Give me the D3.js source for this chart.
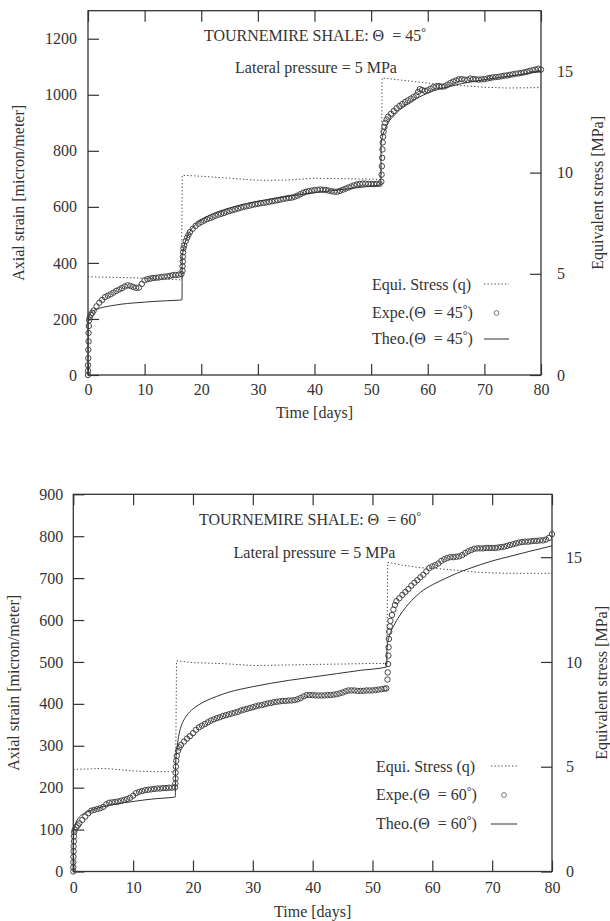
<!DOCTYPE html>
<html>
<head>
<meta charset="utf-8">
<script src="https://cdn.jsdelivr.net/npm/d3@7"></script>
<style>
  html, body { margin: 0; padding: 0; background: #fff; }
  svg { display: block; }
  text { font-family: "Liberation Serif", "Times New Roman", serif; fill: #333; }
</style>
</head>
<body>
<svg id="fig" width="610" height="921"></svg>
<script>
// Tick values shared by both panels
const timeTicks = [0, 10, 20, 30, 40, 50, 60, 70, 80];
const stressTicks = [0, 5, 10, 15];
const strainTicks45 = [0, 200, 400, 600, 800, 1000, 1200];
const strainTicks60 = [0, 100, 200, 300, 400, 500, 600, 700, 800, 900];

// Equivalent stress q [MPa] vs time [days], theta = 45
const stress45 = [[0,4.85],[4,4.83],[8,4.8],[12,4.75],[16.5,4.7],[16.65,9.87],[20,9.82],[25,9.72],[30,9.62],
  [35,9.63],[40,9.72],[45,9.7],[50,9.68],[51.8,9.66],[51.95,14.68],[55,14.58],[58.6,14.47],[62,14.36],
  [66,14.3],[70,14.22],[74,14.18],[80,14.2]];

// Measured axial strain [micron/meter], theta = 45
const expe45 = [[0,0],[0,15],[0,35],[0.05,60],[0.05,90],[0.1,120],[0.1,150],[0.15,175],[0.2,195],[0.3,205],
  [0.5,215],[0.75,222],[1,230],[1.5,245],[2,258],[2.5,268],[3,278],[3.5,283],[4,288],[4.5,294],[5,300],
  [5.5,305],[6,310],[6.5,316],[7,320],[7.5,318],[8,314],[8.5,311],[9,312],[9.5,325],[10,338],[10.5,342],
  [11,344],[11.5,346],[12,347],[12.5,348],[13,350],[13.5,351],[14,352],[14.5,354],[15,356],[15.5,357],
  [16,358],[16.5,360],[16.7,372],[16.7,388],[16.75,405],[16.75,422],[16.8,438],[16.85,452],[17,462],
  [17.25,478],[17.5,490],[17.75,500],[18,510],[18.5,522],[19,532],[19.5,540],[20,546],[20.5,551],[21,556],
  [21.5,560],[22,564],[22.5,568],[23,572],[23.5,575],[24,578],[24.5,582],[25,585],[25.5,588],[26,591],
  [26.5,594],[27,597],[27.5,600],[28,602],[28.5,604],[29,607],[29.5,609],[30,611],[30.5,613],[31,614],
  [31.5,616],[32,618],[32.5,620],[33,622],[33.5,624],[34,626],[34.5,628],[35,630],[35.5,632],[36,633],
  [36.5,636],[37,640],[37.5,645],[38,650],[38.5,654],[39,656],[39.5,658],[40,660],[40.5,661],[41,662],
  [41.5,661],[42,660],[42.5,658],[43,656],[43.5,654],[44,654],[44.5,657],[45,661],[45.5,665],[46,669],
  [46.5,673],[47,677],[47.5,680],[48,682],[48.5,683],[49,683],[49.5,682],[50,682],[50.5,681],[51,682],
  [51.5,682],[51.8,690],[51.85,715],[51.9,745],[51.95,775],[52,805],[52.05,830],[52.1,850],[52.2,868],
  [52.35,885],[52.5,900],[52.75,912],[53,922],[53.5,932],[54,942],[54.5,952],[55,960],[55.5,967],[56,974],
  [56.5,980],[57,986],[57.5,992],[58,998],[58.3,1010],[58.6,1020],[59,1017],[59.5,1014],[60,1016],
  [60.5,1022],[61,1027],[61.5,1030],[62,1031],[62.5,1029],[63,1030],[63.5,1036],[64,1042],[64.5,1047],
  [65,1051],[65.5,1055],[66,1056],[66.5,1054],[67,1053],[67.5,1058],[68,1056],[68.5,1055],[69,1054],
  [69.5,1055],[70,1056],[70.5,1058],[71,1060],[71.5,1062],[72,1063],[72.5,1064],[73,1066],[73.5,1068],
  [74,1069],[74.5,1071],[75,1073],[75.5,1075],[76,1076],[76.5,1078],[77,1080],[77.5,1082],[78,1085],
  [78.5,1088],[79,1090],[79.5,1093],[80,1090]];

// Model prediction of axial strain, theta = 45
const theo45 = [[0,0],[0.02,120],[0.05,190],[0.1,205],[0.3,215],[0.6,224],[1,230],[1.5,234],[2,238],[3,243],
  [4,247],[5,250],[6,253],[8,257],[10,260],[12,263],[14,265],[16,267],[16.6,268],[16.65,425],[16.8,442],
  [17,462],[17.5,492],[18,512],[19,537],[20,553],[21,565],[22,575],[24,590],[26,602],[28,612],[30,620],
  [32,627],[35,637],[38,645],[41,653],[44,660],[47,667],[50,674],[51.7,678],[51.75,820],[52,850],
  [52.5,880],[53,900],[54,925],[55,945],[56,960],[57,972],[58,986],[60,1006],[62,1020],[64,1030],
  [66,1040],[68,1047],[70,1054],[73,1063],[76,1071],[80,1084]];

// Equivalent stress q [MPa] vs time [days], theta = 60
const stress60 = [[0,4.87],[3,4.9],[5,4.92],[7,4.88],[10,4.8],[13,4.77],[16,4.76],[17.1,4.76],[17.25,10.05],
  [20,9.97],[25,9.92],[30,9.83],[35,9.85],[40,9.88],[45,9.9],[50,9.93],[52.4,9.92],[52.55,14.75],
  [55,14.62],[58,14.5],[61,14.45],[64,14.38],[68,14.27],[72,14.23],[80,14.23]];

// Measured axial strain [micron/meter], theta = 60
const expe60 = [[0,0],[0,10],[0,22],[0.02,35],[0.05,48],[0.05,60],[0.1,72],[0.1,84],[0.15,94],[0.25,100],
  [0.5,106],[0.75,110],[1,115],[1.5,123],[2,131],[2.5,139],[3,145],[3.5,147],[4,149],[4.5,151],[5,154],
  [5.5,160],[6,164],[6.5,165],[7,166],[7.5,167],[8,169],[8.5,171],[9,173],[9.5,176],[10,181],[10.5,187],
  [11,190],[11.5,192],[12,194],[12.5,195],[13,196],[13.5,197],[14,198],[14.5,198],[15,199],[15.5,199],
  [16,200],[16.5,200],[17,201],[17.05,210],[17.1,222],[17.1,236],[17.15,250],[17.2,264],[17.3,276],
  [17.5,288],[17.75,296],[18,302],[18.5,310],[19,317],[19.5,323],[20,330],[20.5,338],[21,344],[21.5,348],
  [22,352],[22.5,356],[23,360],[23.5,363],[24,366],[24.5,368],[25,371],[25.5,373],[26,375],[26.5,377],
  [27,379],[27.5,381],[28,384],[28.5,386],[29,388],[29.5,390],[30,392],[30.5,394],[31,396],[31.5,397],
  [32,399],[32.5,401],[33,402],[33.5,404],[34,405],[34.5,406],[35,407],[35.5,407],[36,408],[36.5,408],
  [37,409],[37.5,411],[38,414],[38.5,418],[39,421],[39.5,421],[40,421],[40.5,420],[41,420],[41.5,420],
  [42,420],[42.5,421],[43,421],[43.5,422],[44,423],[44.5,425],[45,427],[45.5,430],[46,432],[46.5,432],
  [47,432],[47.5,431],[48,431],[48.5,431],[49,432],[49.5,432],[50,432],[50.5,433],[51,434],[51.5,435],
  [52,436],[52.3,437],[52.5,458],[52.55,475],[52.6,495],[52.65,515],[52.7,535],[52.75,555],[52.8,572],
  [52.9,585],[53,598],[53.25,612],[53.5,625],[53.75,636],[54,645],[54.5,652],[55,660],[55.5,667],[56,674],
  [56.5,682],[57,689],[57.5,695],[58,702],[58.5,708],[59,716],[59.5,724],[60,728],[60.5,731],[61,735],
  [61.5,741],[62,745],[62.5,748],[63,750],[63.5,750],[64,751],[64.5,752],[65,755],[65.5,760],[66,764],
  [66.5,767],[67,770],[67.5,771],[68,771],[68.5,771],[69,772],[69.5,772],[70,772],[70.5,772],[71,773],
  [71.5,774],[72,775],[72.5,777],[73,779],[73.5,781],[74,783],[74.5,785],[75,786],[75.5,787],[76,787],
  [76.5,788],[77,789],[77.5,789],[78,790],[78.5,790],[79,792],[79.5,796],[80,805]];

// Model prediction of axial strain, theta = 60
const theo60 = [[0,0],[0.02,60],[0.05,95],[0.1,103],[0.3,112],[0.6,122],[1,130],[1.5,136],[2,140],[3,146],
  [4,151],[5,155],[6,158],[8,163],[10,167],[12,171],[14,174],[16,176],[17.05,178],[17.1,255],[17.3,290],
  [17.6,322],[18,346],[18.5,362],[19,373],[20,388],[21,398],[22,406],[24,418],[26,428],[28,435],[30,441],
  [33,449],[36,456],[40,464],[44,472],[48,480],[52.35,488],[52.45,535],[52.7,556],[53,570],[53.5,585],
  [54,598],[55,620],[56,638],[57,653],[58,666],[60,684],[62,698],[64,711],[66,722],[68,732],[70,741],
  [73,752],[76,763],[80,777]];

const svg = d3.select("#fig");
const intFmt = d3.format("d");

function drawPanel(p) {
  const g = svg.append("g");
  const x = d3.scaleLinear().domain([0, 80]).range([p.left, p.right]);
  const y = d3.scaleLinear().domain([0, p.strainMax]).range([p.bottom, p.top]);
  const yq = d3.scaleLinear().domain([0, 18]).range([p.bottom, p.top]);

  const styleAxis = sel => {
    sel.select(".domain").remove();
    sel.selectAll(".tick line").attr("stroke", "#333").attr("stroke-width", 1.2);
    sel.selectAll(".tick text").attr("font-size", 16).attr("fill", "#333")
      .attr("font-family", "Liberation Serif, serif");
  };

  // axes with inward ticks
  g.append("g").attr("transform", `translate(0,${p.bottom})`)
    .call(d3.axisBottom(x).tickValues(timeTicks).tickFormat(intFmt).tickSize(-11).tickPadding(p.xPad))
    .call(styleAxis);
  g.append("g").attr("transform", `translate(0,${p.top})`)
    .call(d3.axisTop(x).tickValues(timeTicks).tickSize(-11).tickFormat(""))
    .call(styleAxis);
  g.append("g").attr("transform", `translate(${p.left},0)`)
    .call(d3.axisLeft(y).tickValues(p.strainTicks).tickFormat(intFmt).tickSize(-11).tickPadding(p.yPad))
    .call(styleAxis);
  g.append("g").attr("transform", `translate(${p.right},0)`)
    .call(d3.axisRight(yq).tickValues(stressTicks).tickFormat(intFmt).tickSize(-11).tickPadding(p.qPad))
    .call(styleAxis);

  // frame
  g.append("rect")
    .attr("x", p.left).attr("y", p.top)
    .attr("width", p.right - p.left).attr("height", p.bottom - p.top)
    .attr("fill", "none").attr("stroke", "#333").attr("stroke-width", 1.3);

  // equivalent stress, dotted
  g.append("path").datum(p.stress)
    .attr("fill", "none").attr("stroke", "#444").attr("stroke-width", 1)
    .attr("stroke-dasharray", "1.3,2.2")
    .attr("d", d3.line().x(d => x(d[0])).y(d => yq(d[1])));

  // measured strain, open circles
  g.append("g").selectAll("circle").data(p.expe).join("circle")
    .attr("cx", d => x(d[0])).attr("cy", d => y(d[1])).attr("r", 2.7)
    .attr("fill", "none").attr("stroke", "#444").attr("stroke-width", 1);

  // model strain, solid
  g.append("path").datum(p.theo)
    .attr("fill", "none").attr("stroke", "#333").attr("stroke-width", 1)
    .attr("d", d3.line().curve(d3.curveMonotoneX).x(d => x(d[0])).y(d => y(d[1])));

  // annotations
  const title = g.append("text").attr("x", p.titleX).attr("y", p.titleY)
    .attr("text-anchor", "middle").attr("font-size", 16);
  title.append("tspan").text(`TOURNEMIRE SHALE: \u0398\u00a0\u00a0= ${p.angle}`);
  title.append("tspan").attr("font-size", 12).attr("dy", -5).text("\u00b0");
  g.append("text").attr("x", p.latX).attr("y", p.latY)
    .attr("text-anchor", "middle").attr("font-size", 16)
    .text("Lateral pressure = 5 MPa");

  // legend
  const lg = g.append("g");
  lg.append("text").attr("x", p.legX).attr("y", p.legY[0]).attr("font-size", 16).text("Equi. Stress (q)");
  ["Expe.", "Theo."].forEach((lab, i) => {
    const t = lg.append("text").attr("x", p.legX).attr("y", p.legY[i + 1]).attr("font-size", 16);
    t.append("tspan").text(`${lab}(\u0398\u00a0\u00a0= ${p.angle}`);
    t.append("tspan").attr("font-size", 12).attr("dy", -5).text("\u00b0");
    t.append("tspan").attr("dy", 5).text(")");
  });
  lg.append("line").attr("x1", p.sampX[0]).attr("x2", p.sampX[1])
    .attr("y1", p.legY[0] - 6).attr("y2", p.legY[0] - 6)
    .attr("stroke", "#444").attr("stroke-dasharray", "1.3,2.2");
  lg.append("circle").attr("cx", (p.sampX[0] + p.sampX[1]) / 2).attr("cy", p.legY[1] - 5).attr("r", 2.4)
    .attr("fill", "none").attr("stroke", "#555").attr("stroke-width", 0.8);
  lg.append("line").attr("x1", p.sampX[0]).attr("x2", p.sampX[1])
    .attr("y1", p.legY[2] - 5).attr("y2", p.legY[2] - 5)
    .attr("stroke", "#333").attr("stroke-width", 1);

  // axis titles
  g.append("text").attr("transform", `translate(${p.leftTitleX},${(p.top + p.bottom) / 2}) rotate(-90)`)
    .attr("text-anchor", "middle").attr("dominant-baseline", "central").attr("font-size", 16)
    .text("Axial strain [micron/meter]");
  g.append("text").attr("transform", `translate(${p.rightTitleX},${(p.top + p.bottom) / 2}) rotate(-90)`)
    .attr("text-anchor", "middle").attr("dominant-baseline", "central").attr("font-size", 16)
    .text("Equivalent stress [MPa]");
  g.append("text").attr("x", (p.left + p.right) / 2).attr("y", p.timeY)
    .attr("text-anchor", "middle").attr("font-size", 16).text("Time [days]");
}

drawPanel({
  left: 88, right: 541, top: 10.7, bottom: 375,
  strainMax: 1300, strainTicks: strainTicks45,
  stress: stress45, expe: expe45, theo: theo45, angle: "45",
  xPad: 8.6, yPad: 11, qPad: 16,
  titleX: 315, titleY: 41, latX: 316, latY: 73,
  legX: 372, legY: [290, 318, 344], sampX: [484, 509],
  leftTitleX: 18, rightTitleX: 597, timeY: 418
});

drawPanel({
  left: 73.3, right: 552, top: 494.3, bottom: 871.5,
  strainMax: 900, strainTicks: strainTicks60,
  stress: stress60, expe: expe60, theo: theo60, angle: "60",
  xPad: 10, yPad: 10, qPad: 14,
  titleX: 310, titleY: 525, latX: 314.5, latY: 558,
  legX: 376, legY: [772, 800, 829], sampX: [491, 517],
  leftTitleX: 13, rightTitleX: 601, timeY: 917
});
</script>
</body>
</html>
